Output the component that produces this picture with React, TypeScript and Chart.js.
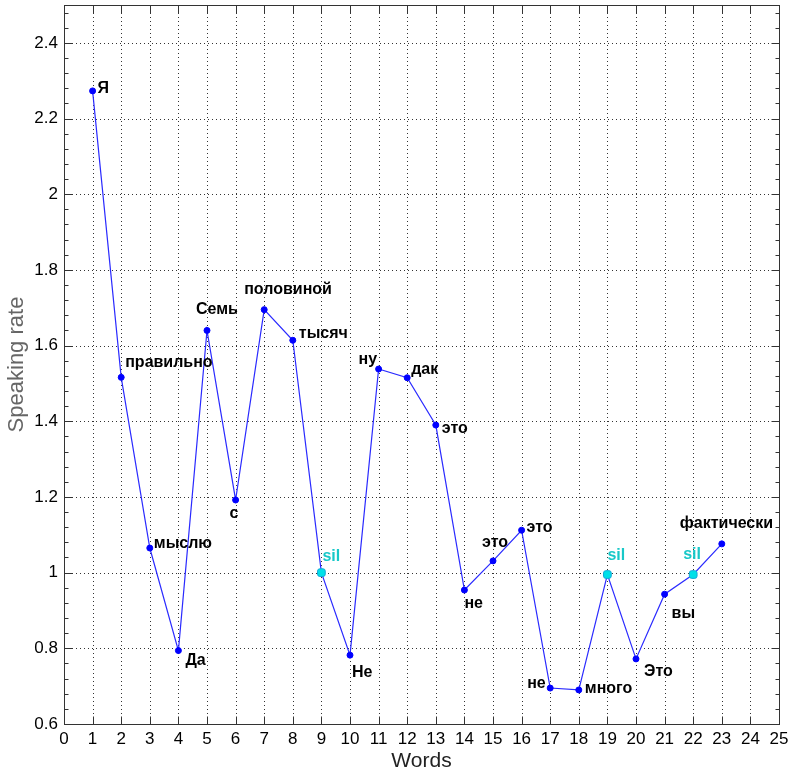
import React, { useEffect, useRef } from "react";
import { Chart, registerables } from "chart.js";

Chart.register(...registerables);

// ---- data ----
const words = ["Я", "правильно", "мыслю", "Да", "Семь", "с", "половиной", "тысяч", "sil", "Не", "ну", "дак", "это", "не", "это", "это", "не", "много", "sil", "Это", "вы", "sil", "фактически"];
const positions = [1, 2, 3, 4, 5, 6, 7, 8, 9, 10, 11, 12, 13, 14, 15, 16, 17, 18, 19, 20, 21, 22, 23];
const rates = [2.273, 1.516, 1.065, 0.794, 1.64, 1.192, 1.695, 1.614, 1.0, 0.782, 1.538, 1.515, 1.39, 0.954, 1.031, 1.112, 0.695, 0.69, 0.995, 0.772, 0.943, 0.995, 1.076];
const xTicks = [0, 1, 2, 3, 4, 5, 6, 7, 8, 9, 10, 11, 12, 13, 14, 15, 16, 17, 18, 19, 20, 21, 22, 23, 24, 25];
const yTicks = [0.6, 0.8, 1, 1.2, 1.4, 1.6, 1.8, 2, 2.2, 2.4];
const yMinorStep = 0.04;

// label placement (pixel offsets from each point: left edge, vertical centre)
const labelDx = [5, 4, 4, 7, -11, -6, -20, 6, 1, 2, -20, 4, 6, 0, -11, 5, -23, 6, 0, 8, 7, -10, -42];
const labelDy = [-2, -15, -4, 10, -21, 14, -20, -7, -16, 17, -9, -8, 4, 14, -18, -3, -4, -1, -19, 13, 19, -20, -20];

const FONT = "'Liberation Sans', Arial, Helvetica, sans-serif";
const SIL_COLOR = "#18c8c8";
const LINE_COLOR = "#2a2aff";

const decorPlugin = {
  id: "decor",
  beforeDatasetsDraw(chart: any) {
    const { ctx, chartArea } = chart;
    const xs = chart.scales.x;
    const ys = chart.scales.y;
    ctx.save();
    ctx.strokeStyle = "rgba(0,0,0,0.8)";
    ctx.lineWidth = 1;
    ctx.setLineDash([1, 3]);
    for (const v of xTicks) {
      const px = Math.round(xs.getPixelForValue(v)) + 0.5;
      if (px <= chartArea.left + 1 || px >= chartArea.right - 1) continue;
      ctx.beginPath();
      ctx.moveTo(px, chartArea.top);
      ctx.lineTo(px, chartArea.bottom);
      ctx.stroke();
    }
    for (const v of yTicks) {
      const py = Math.round(ys.getPixelForValue(v)) + 0.5;
      if (py <= chartArea.top + 1 || py >= chartArea.bottom - 1) continue;
      ctx.beginPath();
      ctx.moveTo(chartArea.left, py);
      ctx.lineTo(chartArea.right, py);
      ctx.stroke();
    }
    ctx.restore();
  },
  afterDatasetsDraw(chart: any) {
    const { ctx, chartArea } = chart;
    const xs = chart.scales.x;
    const ys = chart.scales.y;
    const meta = chart.getDatasetMeta(0);
    ctx.save();
    // labels
    ctx.font = `bold 16px ${FONT}`;
    ctx.textAlign = "left";
    ctx.textBaseline = "middle";
    meta.data.forEach((pt: any, i: number) => {
      ctx.fillStyle = words[i] === "sil" ? SIL_COLOR : "#000";
      ctx.fillText(words[i], pt.x + labelDx[i], pt.y + labelDy[i]);
    });
    // axes box
    const L = Math.round(chartArea.left) + 0.5;
    const R = Math.round(chartArea.right) + 0.5;
    const T = Math.round(chartArea.top) + 0.5;
    const B = Math.round(chartArea.bottom) + 0.5;
    ctx.strokeStyle = "#333";
    ctx.lineWidth = 1;
    ctx.strokeRect(L, T, R - L, B - T);
    // x ticks
    ctx.beginPath();
    for (const v of xTicks) {
      const px = Math.round(xs.getPixelForValue(v)) + 0.5;
      ctx.moveTo(px, B);
      ctx.lineTo(px, B - 8);
      ctx.moveTo(px, T);
      ctx.lineTo(px, T + 8);
    }
    // y ticks (major + minor)
    const yMin = ys.min;
    const yMax = ys.max;
    const n = Math.round((yMax - yMin) / yMinorStep);
    for (let k = 0; k <= n; k++) {
      const v = yMin + k * yMinorStep;
      if (v > yMax + 1e-9) break;
      const major = yTicks.some((t) => Math.abs(t - v) < 1e-6);
      const len = major ? 8 : 4;
      const py = Math.round(ys.getPixelForValue(v)) + 0.5;
      ctx.moveTo(L, py);
      ctx.lineTo(L + len, py);
      ctx.moveTo(R, py);
      ctx.lineTo(R - len, py);
    }
    ctx.stroke();
    ctx.restore();
  },
};

export default function App() {
  const canvasRef = useRef<HTMLCanvasElement | null>(null);

  useEffect(() => {
    if (!canvasRef.current) return;
    Chart.defaults.font.family = FONT;
    const chart = new Chart(canvasRef.current, {
      type: "line",
      data: {
        datasets: [
          {
            data: positions.map((x, i) => ({ x, y: rates[i] })),
            borderColor: LINE_COLOR,
            borderWidth: 1.2,
            tension: 0,
            pointRadius: words.map((w) => (w === "sil" ? 4.5 : 3)),
            pointStyle: words.map((w) => (w === "sil" ? "rectRounded" : "circle")) as any,
            pointBackgroundColor: words.map((w) => (w === "sil" ? "#00e0e8" : "#0000ff")),
            pointBorderColor: words.map((w) => (w === "sil" ? "#10a8d8" : "#0000ff")),
            pointBorderWidth: 1,
          },
        ],
      },
      options: {
        responsive: false,
        animation: false,
        layout: { padding: { top: 5, right: 10, left: 0, bottom: 0 } },
        plugins: { legend: { display: false }, tooltip: { enabled: false } },
        scales: {
          x: {
            type: "linear",
            min: 0,
            max: 25,
            afterBuildTicks: (s: any) => {
              s.ticks = xTicks.map((v) => ({ value: v }));
            },
            afterFit: (s: any) => {
              s.height = 50;
              s.paddingLeft = 0;
              s.paddingRight = 0;
            },
            grid: { display: false, drawTicks: false },
            border: { display: false },
            ticks: {
              autoSkip: false,
              maxRotation: 0,
              padding: 5,
              color: "#000",
              font: { size: 17, family: FONT },
              callback: (v: any) => String(v),
            },
            title: {
              display: true,
              text: "Words",
              color: "#222",
              font: { size: 21, family: FONT },
              padding: { top: 0, bottom: 0 },
            },
          },
          y: {
            type: "linear",
            min: 0.6,
            max: 2.5,
            afterBuildTicks: (s: any) => {
              s.ticks = yTicks.map((v) => ({ value: v }));
            },
            afterFit: (s: any) => {
              s.width = 64;
              s.paddingTop = 0;
              s.paddingBottom = 0;
            },
            grid: { display: false, drawTicks: false },
            border: { display: false },
            ticks: {
              padding: 6,
              color: "#000",
              font: { size: 17, family: FONT },
              callback: (v: any) => String(Number(Number(v).toFixed(2))),
            },
            title: {
              display: true,
              text: "Speaking rate",
              color: "#666",
              font: { size: 22, family: FONT },
              padding: { top: 4, bottom: 0 },
            },
          },
        },
      },
      plugins: [decorPlugin],
    });
    return () => chart.destroy();
  }, []);

  return (
    <div style={{ position: "absolute", left: 0, top: 0, width: 789, height: 774, background: "#fff" }}>
      <canvas ref={canvasRef} width={789} height={774} style={{ display: "block" }} />
    </div>
  );
}
